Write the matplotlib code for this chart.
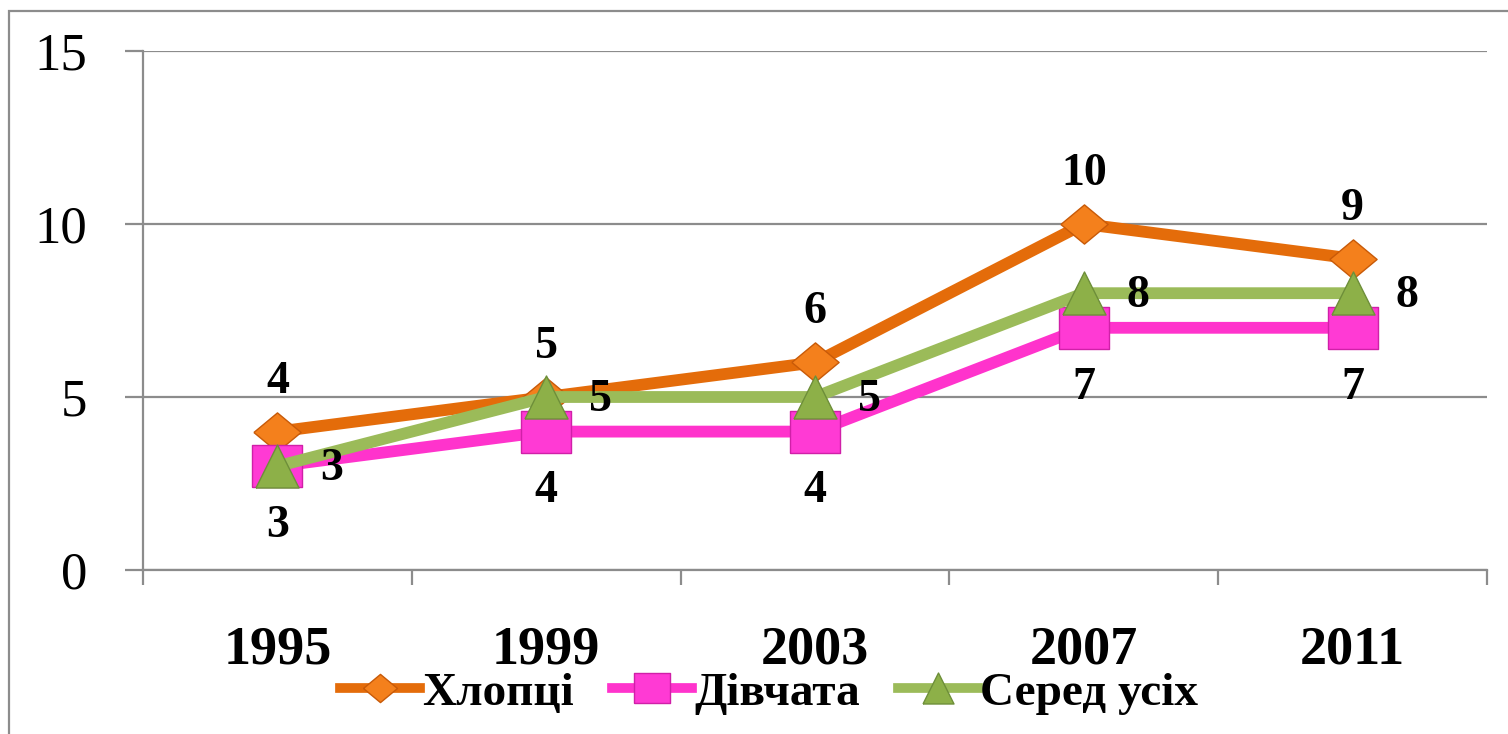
import matplotlib
matplotlib.use('Agg')
import matplotlib.pyplot as plt
from matplotlib.patches import Rectangle

years = ['1995', '1999', '2003', '2007', '2011']
boys = [4, 5, 6, 10, 9]
girls = [3, 4, 4, 7, 7]
overall = [3, 5, 5, 8, 8]
series_names = ['Хлопці', 'Дівчата', 'Серед усіх']
y_ticks = [0, 5, 10, 15]

plt.rcParams['font.family'] = ['Liberation Serif', 'DejaVu Serif']

diamond = [(-1, 0), (0, 0.83), (1, 0), (0, -0.83), (-1, 0)]
rect = [(-1, -0.84), (-1, 0.84), (1, 0.84), (1, -0.84), (-1, -0.84)]
tri = [(-1, -1), (0, 1), (1, -1), (-1, -1)]

fig = plt.figure(figsize=(15.08, 7.34), dpi=100)
fig.patches.append(Rectangle((9 / 1508, -0.1), 1.2, 1.1 - 11 / 734,
                             transform=fig.transFigure, fill=False,
                             edgecolor='#8c8c8c', linewidth=1.6))
ax = fig.add_axes([143 / 1508, 1 - 570 / 734, (1487 - 143) / 1508, (570 - 51) / 734])

x = list(range(len(years)))
grid_c = '#8c8c8c'
for v in y_ticks:
    ax.axhline(v, color=grid_c, linewidth=1.6, zorder=1)

ax.plot(x, boys, color='#E46C0A', linewidth=8.5, marker=diamond, markersize=34,
        markerfacecolor='#F4801C', markeredgecolor='#C85A08', markeredgewidth=1,
        label=series_names[0], zorder=3)
ax.plot(x, girls, color='#FF33CC', linewidth=8.5, marker=rect, markersize=36,
        markerfacecolor='#FF3AD4', markeredgecolor='#D020A8', markeredgewidth=1,
        label=series_names[1], zorder=4)
ax.plot(x, overall, color='#9BBB59', linewidth=8.5, marker=tri, markersize=31,
        markerfacecolor='#8DB048', markeredgecolor='#6E8F3A', markeredgewidth=1,
        label=series_names[2], zorder=5)

lab = dict(fontsize=33, fontweight='bold', ha='center', va='center',
           textcoords='offset points', zorder=6)
for i in x:
    ax.annotate(str(boys[i]), (i, boys[i]), xytext=(0, 36), **lab)
    ax.annotate(str(girls[i]), (i, girls[i]), xytext=(0, -43), **lab)
    ax.annotate(str(overall[i]), (i, overall[i]), xytext=(39, -2), **lab)

ax.set_xlim(-0.5, len(years) - 0.5)
ax.set_ylim(0, 15)
ax.set_yticks(y_ticks)
ax.set_yticklabels([str(v) for v in y_ticks], fontsize=38)
ax.set_xticks([i - 0.5 for i in range(len(years) + 1)])
ax.set_xticklabels([''] * (len(years) + 1))
ax.set_xticks(x, minor=True)
ax.set_xticklabels(years, minor=True, fontsize=39, fontweight='bold')
ax.tick_params(axis='y', length=13, width=1.6, color=grid_c, pad=27)
ax.tick_params(axis='x', which='major', length=11, width=1.6, color=grid_c)
ax.tick_params(axis='x', which='minor', length=0, pad=40)

for s in ['top', 'right']:
    ax.spines[s].set_visible(False)
for s in ['left', 'bottom']:
    ax.spines[s].set_color(grid_c)
    ax.spines[s].set_linewidth(1.6)

leg = fig.legend(loc='center', bbox_to_anchor=(769 / 1508, 1 - 693 / 734), ncol=3,
                 frameon=False, prop={'size': 34, 'weight': 'bold'},
                 handlelength=1.7, handletextpad=0.05, columnspacing=0.8,
                 markerscale=0.72, borderaxespad=0, borderpad=0)
for h in leg.legend_handles:
    h.set_linewidth(7)

fig.savefig('out.png', dpi=100)
